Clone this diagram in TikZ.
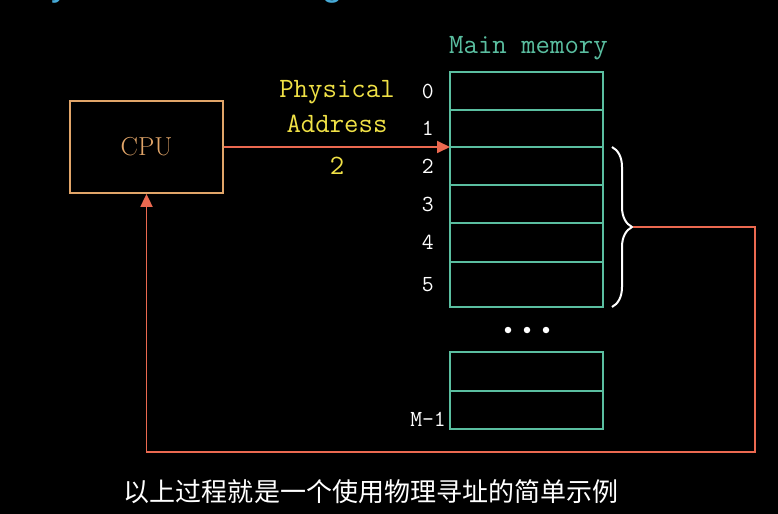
\documentclass[tikz,border=0pt]{standalone}
\usepackage{fontspec}
\newfontfamily\cjk{Noto Sans CJK SC}
\newfontfamily\titlefont{Liberation Sans}
\usetikzlibrary{positioning,arrows.meta,decorations.pathreplacing,calc}
\definecolor{memteal}{RGB}{90,190,160}
\definecolor{cputan}{RGB}{225,165,105}
\definecolor{linkred}{RGB}{235,105,80}
\definecolor{addryellow}{RGB}{240,225,70}
\definecolor{titlecyan}{RGB}{70,170,215}

\begin{document}
\begin{tikzpicture}[x=1bp, y=-1bp,
    memcell/.style={rectangle, draw=memteal, line width=1.8bp, minimum width=153bp,
                    inner sep=0pt, outer sep=0pt},
    idx/.style={font=\fontsize{23bp}{25bp}\selectfont\ttfamily, text=white, inner sep=0pt},
    addr/.style={font=\fontsize{28bp}{30bp}\selectfont\ttfamily, text=addryellow,
                 inner sep=0pt, anchor=base},
    dotmark/.style={circle, fill=white, inner sep=0pt, minimum size=6.5bp},
    arrow/.style={-{Triangle[length=13bp,width=12bp]}, line width=1.8bp, linkred},
    link/.style={line width=1.8bp, linkred}
]
% background and frame
\fill[black] (0,0) rectangle (778,514);
\useasboundingbox (0,0) rectangle (778,514);

% slide title, cut off by the top edge
\node[anchor=base west, inner sep=0pt, text=titlecyan,
      font=\fontsize{37.5bp}{40bp}\selectfont\titlefont] (title) at (5,-4) {Physical Addressing};

% CPU
\node[rectangle, draw=cputan, line width=1.8bp, minimum width=153bp, minimum height=92bp,
      text=cputan, font=\fontsize{26bp}{28bp}\selectfont] (cpu) at (146.5,147) {CPU};

% main memory cells
\foreach \i/\t/\b in {0/72/110, 1/110/147, 2/147/185, 3/185/223, 4/223/262, 5/262/307} {
    \pgfmathsetmacro\h{\b-\t}
    \node[memcell, minimum height=\h bp] (cell\i) at (526.5,{(\t+\b)/2}) {};
    \node[idx, left=16bp of cell\i] (idx\i) {\i};
}
\node[memcell, minimum height=39bp] (cellx) at (526.5,371.5) {};
\node[memcell, minimum height=38bp] (celllast) at (526.5,410) {};
\node[idx, anchor=base east] (idxlast) at (446,426) {M-1};

\node[anchor=base west, inner sep=0pt, text=memteal,
      font=\fontsize{28bp}{30bp}\selectfont\ttfamily] (memtitle) at (449,54) {Main memory};

% dots between blocks
\foreach \k/\x in {1/508, 2/527, 3/546}
    \node[dotmark] (dot\k) at (\x,330) {};

% address labels
\node[addr] (physlbl) at (337,98) {Physical};
\node[addr] (addrlbl) at (337,133) {Address};
\node[addr] (addrval) at (337,175) {2};

% brace over cells 2..5
\coordinate (bracetop) at ([xshift=9bp]cell2.north east);
\coordinate (bracebot) at ([xshift=9bp]cell5.south east);
\coordinate (bracetip) at ($(bracetop)!0.5!(bracebot)+(21,0)$);
\draw[white, line width=2bp, decorate, decoration={brace, amplitude=20bp}]
    (bracetop) -- (bracebot);

% connectors
\coordinate (loopcorner) at (755,452);
\draw[arrow] (cpu.east) -- (cell2.north west);
\draw[arrow] (bracetip) -| (loopcorner) -| (cpu.south);

% caption
\node[text=white, inner sep=0pt, anchor=base,
      font=\fontsize{26bp}{28bp}\selectfont\cjk] (caption) at (371,501) {以上过程就是一个使用物理寻址的简单示例};
\end{tikzpicture}
\end{document}
